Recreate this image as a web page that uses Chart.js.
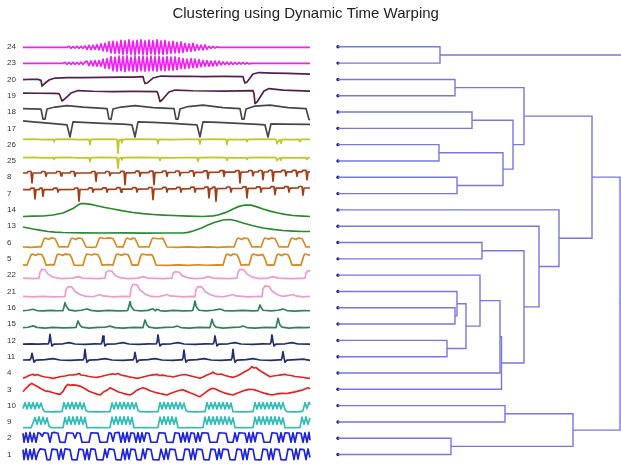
<!DOCTYPE html>
<html lang="en">
<head>
<meta charset="UTF-8">
<title>Clustering using Dynamic Time Warping</title>
<script src="https://cdn.jsdelivr.net/npm/chart.js"></script>
<style>
  html, body { margin: 0; padding: 0; background: #fff; }
  #wrap { width: 621px; height: 464px; }
</style>
</head>
<body>
<div id="wrap"><canvas id="dtwChart" width="621" height="464"></canvas></div>
<script>
// row order, top to bottom (leaf order of the dendrogram)
const rowLabels = ['24','23','20','19','18','17','26','25','8','7','14','13','6','5','22','21','16','15','12','11','4','3','10','9','2','1'];
const rowColors = ['#f020f0','#f020f0','#52204f','#52204f','#474747','#474747','#c2c82a','#c2c82a','#a33e1b','#a33e1b',
                   '#278a2e','#278a2e','#d98a20','#d98a20','#f09ad0','#f09ad0','#2f8260','#2f8260','#1f2f6e','#1f2f6e',
                   '#e52222','#e52222','#30bdb8','#30bdb8','#1f24d8','#1f24d8'];

// time series: flat lists of (time, amplitude) pairs
const s24 = [0,-0.5, 44,-0.5,
  46,0.5, 48,-1.5, 50,0.3, 52,-1.3, 54,0.6, 56,-1.6, 58,0.5, 60,-1.5, 62,0.8,
  64,-2.5, 66,1.5, 68,-2.8, 70,1.6, 72,-2.5, 74,2, 76,-3,
  78,3, 80,-4, 82,3.5, 84,-4.5,
  86,5, 88,-6, 90,5.5, 92,-6.5, 94,5, 96,-6.5,
  98,6.5, 100,-7.5, 102,6, 104,-7, 106,7, 108,-7.5, 110,6, 112,-8, 114,6.5, 116,-7, 118,7, 120,-7.5,
  122,6, 124,-8, 126,6.8, 128,-7, 130,6.2, 132,-7.8, 134,7, 136,-7.2, 138,6, 140,-7.5, 142,6.5, 144,-7,
  146,5, 148,-6.5, 150,5.5, 152,-6, 154,4.5, 156,-6, 158,5, 160,-5.5,
  162,3.5, 164,-4.5, 166,3, 168,-4.5, 170,3.5, 172,-4,
  174,2, 176,-3, 178,1.8, 180,-3, 182,2, 184,-2.5,
  186,0.5, 188,-1.5, 190,0.5, 192,-1.3, 194,0, 196,-0.5, 287,-0.5];
const s23 = [0,-0.2, 40,-0.2,
  42,0.8, 44,-1.2, 46,0.8, 48,-1.2, 50,0.9, 52,-1.3, 54,0.8, 56,-1.3, 58,1, 60,-1.4, 62,1,
  64,2, 66,-2.5, 68,2.2, 70,-2.8, 72,2.5, 74,-3, 76,2.5, 78,-3.2,
  80,4, 82,-5, 84,4.5, 86,-5.5,
  88,6.5, 90,-7.5, 92,6, 94,-8, 96,7, 98,-7.5, 100,6.5, 102,-8.5, 104,7.2, 106,-7.5, 108,6, 110,-8,
  112,7, 114,-8.2, 116,6.5, 118,-7.5, 120,7, 122,-8, 124,6.2, 126,-7.8, 128,7, 130,-7.5, 132,6.5, 134,-8,
  136,6.8, 138,-7.2, 140,6, 142,-7.5, 144,6.5, 146,-7, 148,6, 150,-7, 152,6.2, 154,-6.5, 156,5.5,
  158,-5.5, 160,4.5, 162,-5.5, 164,4, 166,-5, 168,4.5, 170,-4.5, 172,4, 174,-4.5, 176,3.5,
  178,-3.5, 180,2.5, 182,-3, 184,2.5, 186,-3, 188,2, 190,-2.8, 192,2.2, 194,-2.5, 196,2,
  198,-1.8, 200,1.2, 202,-1.5, 204,1, 206,-1.5, 208,1, 210,-1.4, 212,0.8, 214,-1.2, 216,0.8,
  218,-1, 220,0.6, 222,-1, 224,0.4, 226,-0.8, 228,-0.2, 287,-0.2];
const s20 = [0,-0.1, 8,0.2, 15,0, 18,-1, 19,-6.6, 21,-4.6, 26,-0.6, 32,1.4, 45,1.8, 60,1.9, 80,2.1, 100,2.4, 110,2.3,
  120,2.9, 121,-1, 122,-4.1, 124,-3.6, 130,1.4, 138,3.4, 150,3, 165,3.2, 180,2.9, 200,3.1,
  220,2.9, 221,-1, 222,-3.6, 224,-2.6, 230,5.4, 236,6.9, 250,6.4, 265,6, 287,5.4];
const s19 = [0,2.7, 15,2.5, 30,2.4, 36,2.2, 37,0, 39,-5.3, 41,-3.8, 48,2.7, 55,5.2, 70,4.5, 90,4.2, 110,4.4,
  134,4.2, 135,2, 137,-5.8, 139,-4.3, 146,3.7, 152,5.7, 170,5, 200,4.7,
  230,5.2, 231,2, 232,-7.8, 234,-6.3, 241,4.7, 246,7.2, 260,5.7, 287,4.7];
const s18 = [0,3.5, 18,3, 20,-7, 22,-7, 24,3, 32,5, 44,6.5, 60,5, 84,3.5, 86,-7, 88,-7.5, 90,3, 98,5, 112,6.5, 130,4.5,
  151,3.5, 153,-7, 155,-7, 157,3, 165,5.5, 180,7, 200,4.5, 217,3.5, 219,-7, 221,-7, 223,3, 232,6, 247,7, 265,4.5,
  283,3.5, 286,-7.5, 287,-8];
const s17 = [0,7.4, 10,6.5, 25,5.2, 44,3.4, 47,-8.6, 50,6.5, 60,6, 80,5, 100,4.2, 109,3.4, 112,-8.6, 115,6.5, 130,6,
  150,5, 165,4, 174,3.4, 177,-8.6, 180,6.5, 195,6, 215,5, 235,4, 242,3.4, 245,-8.6, 248,4.5, 260,4.2, 287,3.9];
const s26 = [0,5.2, 10,5.5, 20,5, 30,5.3, 31,3, 32,5.2, 45,5.5, 55,5, 66,5.2, 67,0, 68,5.2, 80,5.5, 94,5.2, 95,-8.6,
  96,4.5, 98,5.2, 99,2, 100,5.2, 115,5.5, 134,5.2, 135,1, 136,5.2, 150,5, 162,5.4, 176,5.2, 177,0.5, 178,5.2,
  190,5.5, 203,5.2, 204,0, 205,5.2, 215,5, 223,5.2, 224,3, 225,5.2, 240,5.5, 253,5.2, 254,1, 255,3, 257,5.2,
  258,1.5, 259,5.2, 270,5, 276,5.2, 277,3, 278,5.2, 287,5.3];
const s25 = [0,3.3, 10,3.6, 20,3.1, 30,3.4, 31,1.5, 32,3.3, 45,3.6, 55,3.1, 66,3.3, 67,-0.7, 68,3.3, 80,3.6, 94,3.3,
  95,-7.3, 96,2.5, 98,3.3, 99,1, 100,3.3, 115,3.6, 136,3.3, 137,0.5, 138,3.3, 150,3.1, 162,3.5, 174,3.3, 175,-0.3,
  176,3.3, 190,3.6, 203,3.3, 204,0.5, 205,3.3, 215,3.1, 223,3.3, 224,1.5, 225,3.3, 240,3.6, 253,3.3, 254,0.3,
  255,2, 257,3.3, 258,0.8, 259,3.3, 270,3.1, 283,3.3, 284,1.5, 285,3.3, 287,3.4];
const s8 = [0,4.3,
  4,4.3, 5,5.8, 8,5.8, 9,-5.7, 10,4.3,  18,4.3, 19,5.8, 22,5.8, 23,1, 24,4.3,
  33,4.3, 34,5.8, 37,5.8, 38,1.5, 39,4.3,  47,4.3, 48,5.8, 51,5.8, 52,1, 53,4.3,
  68,4.3, 69,5.8, 72,5.8, 73,-4, 74,4.3,  82,4.3, 83,5.8, 86,5.8, 87,1.5, 88,4.3,
  97,4.5, 98,6, 101,6, 102,-7.4, 103,4.5,  112,4.6, 113,6.1, 116,6.1, 117,1, 118,4.6,
  126,4.7, 127,6.2, 130,6.2, 131,-7.4, 132,4.7,  139,4.8, 140,6.3, 143,6.3, 144,1, 145,4.8,
  152,4.8, 153,6.3, 156,6.3, 157,1.5, 158,4.8,  166,4.9, 167,6.4, 170,6.4, 171,1, 172,4.9,
  180,5, 181,6.5, 184,6.5, 185,-1.4, 186,5,  196,5.1, 197,6.6, 200,6.6, 201,1, 202,5.1,
  212,5.2, 213,6.7, 216,6.7, 217,-5.7, 218,5.2,  225,5.3, 226,6.8, 229,6.8, 230,1.5, 231,5.3,
  235,5.3, 236,6.8, 239,6.8, 240,-2.4, 241,5.3,  245,5.4, 246,6.9, 249,6.9, 250,-4, 251,5.4,
  258,5.5, 259,7, 262,7, 263,1.5, 264,5.5,  269,5.5, 270,7, 273,7, 274,1, 275,5.5,
  279,5.5, 280,7, 283,7, 284,-2.5, 285,5.5, 287,5.5];
const s7 = [0,3.9,
  7,3.9, 8,5.4, 11,5.4, 12,-5.4, 13,3.9,  16,3.9, 17,5.4, 19,5.4, 20,-2.7, 21,3.9,
  30,4, 31,5.5, 34,5.5, 35,1.5, 36,4,  51,4.1, 52,5.6, 55,5.6, 56,-7.7, 57,4.1,
  65,4.2, 66,5.7, 69,5.7, 70,1.5, 71,4.2,  79,4.3, 80,5.8, 83,5.8, 84,1.5, 85,4.3,
  93,4.4, 94,5.9, 97,5.9, 98,1.5, 99,4.4,  109,4.5, 110,6, 113,6, 114,1.5, 115,4.5,
  125,4.6, 126,6.1, 129,6.1, 130,-6.1, 131,4.6,  139,4.7, 140,6.2, 143,6.2, 144,1.5, 145,4.7,
  153,4.8, 154,6.3, 157,6.3, 158,1.5, 159,4.8,  167,4.9, 168,6.4, 171,6.4, 172,1.5, 173,4.9,
  181,5, 182,6.5, 185,6.5, 186,-4.4, 187,5,  189,5, 190,6.5, 192,6.5, 193,-7.7, 194,5,
  203,5.1, 204,6.6, 207,6.6, 208,1.5, 209,5.1,  219,5.2, 220,6.7, 223,6.7, 224,-4.4, 225,5.2,
  233,5.3, 234,6.8, 237,6.8, 238,1.5, 239,5.3,  247,5.4, 248,6.9, 251,6.9, 252,-1, 253,5.4,
  261,5.5, 262,7, 265,7, 266,1.5, 267,5.5,  275,5.6, 276,7.1, 279,7.1, 280,-1.5, 281,5.6, 287,5.6];
const s14 = [0,-6.6, 10,-6.3, 20,-6.1, 30,-5.1, 40,-3.1, 50,1.4, 55,4.8, 58,6.4, 62,6.2, 68,5.5, 75,3.9, 82,2.4,
  90,0.9, 100,-1, 110,-2.6, 120,-3.8, 130,-4.6, 140,-5.2, 150,-5.6, 165,-6.2, 180,-6.6, 190,-6, 195,-5.1,
  203,-2.5, 210,0.9, 216,3.5, 222,4.9, 228,4.8, 234,3, 240,0.9, 248,-1.5, 255,-3.1, 262,-4.5, 270,-5.6,
  280,-6.2, 287,-6.6];
const s13 = [0,-0.8, 5,-1.8, 10,-2.8, 18,-4.2, 25,-5.3, 32,-6, 40,-6.3, 60,-6.6, 80,-6.8, 100,-6.7, 120,-6.9,
  140,-6.8, 160,-6.8, 165,-6.2, 170,-4.8, 178,-2, 185,1.2, 192,4, 200,6.2, 207,6.7, 213,5.5, 220,3.2, 230,0.5,
  240,-1.8, 250,-3.2, 260,-4.3, 270,-4.9, 280,-5.3, 287,-5.3];
const s6 = [0,-4.3, 8,-4.8, 15,-4.4,
  18,-4.5, 21,3.5, 22,4.5, 26,3.2, 28,4.6, 32,4, 34,0, 36,-4.5, 42,-4.2,
  45,-4.5, 48,3.5, 49,4.5, 53,3, 55,4.5, 59,4, 61,0, 63,-4.5, 69,-4.8,
  73,-4.5, 76,3.5, 77,4.8, 82,4, 86,4.6, 90,4, 92,0, 94,-4.5, 99,-4.2,
  100,-4.5, 103,3.5, 104,4.5, 108,3, 110,4.5, 112,4, 114,0, 116,-4.5, 122,-4.3,
  126,-4.5, 129,3.5, 130,4.5, 135,3.8, 140,4.2, 142,0, 144,-4.5,
  155,-4.9, 165,-4.3, 175,-4.8, 185,-4.4, 195,-4.9, 205,-4.4,
  211,-4.5, 214,3.5, 215,4.5, 219,3, 221,4.5, 225,4, 227,0, 229,-4.5, 235,-4.2,
  238,-4.5, 241,3.5, 242,4.5, 246,3.3, 248,4.5, 252,4, 254,0, 256,-4.5, 262,-4.3,
  265,-4.5, 268,3.5, 269,4.5, 273,3, 275,4.5, 279,4, 281,0, 283,-4.5, 287,-4.3];
const s5 = [0,-6, 4,-6.2, 8,3.8, 9,4.8, 13,3.5, 15,4.8, 19,4.2, 21,0, 23,-6.2, 28,-5.8,
  31,-6.2, 34,3.8, 35,4.8, 40,3.5, 42,4.8, 47,4.2, 49,0, 51,-6.2, 57,-6.5,
  60,-6.2, 63,3.8, 64,4.8, 69,3.8, 71,4.8, 75,4.2, 77,0, 79,-6.2, 86,-5.8,
  90,-6.2, 93,3.8, 94,4.8, 99,3.5, 101,4.8, 105,4.2, 107,0, 109,-6.2, 112,-6,
  115,-6.2, 118,3.8, 119,4.8, 124,4, 129,4.2, 131,0, 133,-6.2,
  145,-6.6, 155,-6, 165,-6.5, 175,-5.9, 185,-6.4, 195,-6,
  200,-6.2, 203,3.8, 204,4.8, 208,3.2, 210,4.8, 214,4.2, 216,0, 218,-6.2, 223,-5.8,
  226,-6.2, 229,3.8, 230,4.8, 235,3.5, 240,4.2, 242,0, 244,-6.2, 248,-6,
  251,-6.2, 254,3.8, 255,4.8, 259,3.2, 261,4.8, 265,4.2, 267,0, 269,-6.2, 275,-6,
  278,-6.2, 281,3.8, 282,4.8, 286,3.8, 287,4.5];
const s22 = [0,-3, 10,-3.5, 16,-3, 17,3, 19,5.8, 22,5.5, 25,1, 30,-2, 38,-3.5, 50,-3, 55,-1.5, 60,-3, 75,-3.5,
  82,-3, 83,2.5, 85,4.4, 89,4, 92,0, 97,-2.5, 105,-3.5, 115,-3, 120,-1.5, 125,-3, 140,-3.5,
  149,-3, 150,2, 152,3.4, 156,3, 159,-0.5, 164,-2.5, 172,-3.5, 180,-3, 186,-1.5, 190,-3, 205,-3.5,
  214,-3, 215,3, 217,5.8, 221,5.2, 224,1, 229,-2, 237,-3.5, 245,-3, 250,-1.5, 255,-3, 270,-3.5,
  282,-3, 283,2, 285,4.5, 287,4];
const s21 = [0,-5, 10,-5.5, 20,-5, 30,-5.4, 40,-5.2, 42,-5, 43,2, 45,4.8, 49,4.3, 52,0, 57,-3, 63,-5, 70,-5.3,
  74,-4, 77,-3, 80,-4.5, 90,-5.4, 100,-5, 107,-5.2, 108,3, 110,7.2, 114,6.5, 117,1.5, 122,-2.5, 128,-5,
  135,-5.3, 141,-4, 144,-3, 147,-4.5, 160,-5.4, 170,-5, 172,-5.2, 173,2, 175,4.8, 179,4.3, 182,0, 187,-3,
  193,-5, 200,-5.3, 207,-4, 210,-3, 213,-4.5, 225,-5.4, 237,-5, 239,-5.2, 240,2.5, 242,5.5, 246,5, 249,0.5,
  254,-3, 260,-5, 266,-4, 270,-3, 273,-4.5, 280,-5.4, 287,-5];
const s16 = [0,-3, 5,-2.5, 10,-1.5, 14,-2.8, 20,-3.2, 28,-2.6, 35,-3, 40,-2.8, 41,1, 42,5.1, 43,2, 44,0.5, 46,-2.2,
  52,-3.2, 58,-2.5, 64,-1.2, 68,-2.6, 75,-3.3, 85,-2.7, 95,-3.1, 104,-2.8, 105,-2, 106,2, 107,6.1, 108,2, 109,0,
  111,-2.5, 118,-3.2, 125,-2.6, 130,-1, 132,-3, 134,-1.5, 137,-2.8, 142,-3.3, 150,-2.6, 160,-3.1, 169,-2.8,
  170,-2, 171,2, 172,6.8, 173,2, 174,0, 176,-2.5, 183,-3.2, 190,-2.5, 197,-1.3, 201,-2.8, 210,-3.2, 220,-2.7,
  230,-3.1, 235,-2.8, 236,0, 237,2.8, 238,0.5, 240,-2.5, 248,-3.2, 255,-2.5, 260,-1.3, 264,-2.8, 272,-3.3,
  280,-2.8, 287,-3];
const s15 = [0,-3.5, 5,-3.2, 10,-1.8, 14,-3.3, 22,-4, 30,-3.4, 40,-3.8, 50,-3.5, 53,-3.4, 54,0, 55,3.1, 56,1, 57,-1,
  59,-3, 66,-4, 75,-3.4, 82,-3.2, 87,-2, 92,-3.5, 100,-4, 110,-3.4, 120,-3.5, 121,0.5, 122,4.1, 123,1.5,
  124,-1, 126,-3, 133,-4, 142,-3.4, 150,-3.2, 154,-2, 158,-3.5, 166,-4, 176,-3.4, 187,-3.5, 188,0.5, 189,4.8,
  190,1.5, 191,-1, 193,-3, 200,-4, 210,-3.4, 216,-3.2, 220,-2, 224,-3.5, 232,-4, 242,-3.4, 253,-3.5, 254,1,
  255,5.8, 256,2, 257,-1, 259,-3, 266,-4, 275,-3.4, 282,-3.6, 287,-3.3];
const s12 = [0,-3.8, 8,-3.4, 15,-3.8, 22,-3.5, 25,-3.6, 26,-2, 27,6.1, 28,-1, 29,-5.6, 31,-3.8, 40,-3.4, 46,-2.3,
  52,-3.6, 62,-3.9, 72,-3.5, 78,-3.6, 79,-2, 80,4.4, 81,-1, 82,-5.6, 84,-3.8, 93,-3.4, 100,-2.3, 106,-3.6,
  116,-3.9, 126,-3.5, 133,-3.6, 134,-2, 135,5.4, 136,-1, 137,-5.6, 139,-3.8, 148,-3.4, 155,-2.3, 161,-3.6,
  172,-3.9, 183,-3.5, 190,-3.6, 191,-2, 192,4.4, 193,-1, 194,-5.6, 196,-3.8, 205,-3.4, 212,-2.3, 218,-3.6,
  230,-3.9, 240,-3.5, 247,-3.6, 248,-2, 249,5.4, 250,-1, 251,-5.6, 253,-3.8, 262,-3.4, 269,-2.3, 275,-3.6,
  287,-3.8];
const s11 = [0,-3.3, 6,-3.1, 7,-3.3, 8,-1.5, 9,3.4, 10,-1, 11,-5.5, 13,-3.5, 22,-3, 30,-2, 37,-3.3, 47,-3.6,
  57,-3.2, 60,-3.3, 61,-1.5, 62,7.4, 63,-1, 64,-5.6, 66,-3.5, 75,-3, 82,-2, 89,-3.3, 100,-3.6, 108,-3.2,
  110,-3.3, 111,-1.5, 112,4.4, 113,-1, 114,-5.6, 116,-3.5, 125,-3, 132,-2, 139,-3.3, 150,-3.6, 157,-3.2,
  159,-3.3, 160,-1.5, 161,6.7, 162,-1, 163,-5.6, 165,-3.5, 174,-3, 181,-2, 188,-3.3, 198,-3.6, 206,-3.2,
  208,-3.3, 209,-1.5, 210,7.4, 211,-1, 212,-5.6, 214,-3.5, 223,-3, 230,-2, 237,-3.3, 248,-3.6, 256,-3.2,
  258,-3.3, 259,-1.5, 260,5, 261,-1, 262,-5.6, 264,-3.5, 273,-3, 280,-2.5, 287,-3.6];
const s4 = [0,-5.3, 3,-4, 6,-2.5, 10,-1.3, 12,-2.5, 14,-1.5, 18,-3, 22,-4, 26,-4.5, 30,-5.3, 34,-4.5, 38,-3.5,
  42,-3, 46,-2, 50,-1.8, 54,-1.3, 56,-0.5, 58,-2, 62,-2.5, 66,-3.5, 70,-4, 74,-4.3, 78,-3.5, 82,-2.5, 86,-1.5,
  90,-0.8, 92,-1.5, 95,-0.5, 98,-2, 102,-2.8, 106,-3.8, 110,-4.5, 114,-5.3, 118,-4.5, 122,-3.5, 126,-2.5,
  130,-1.8, 134,-1.3, 136,-2.5, 140,-2.2, 144,-3, 148,-3.5, 150,-4, 154,-3, 158,-2, 162,-1.5, 166,-2.5,
  170,-3.5, 174,-4.5, 177,-5.3, 180,-4, 184,-2, 188,-0.5, 190,0.7, 192,-0.5, 195,-1.5, 198,-1, 202,-2.5,
  206,-3.5, 210,-4.3, 214,-3, 218,-1, 222,1.5, 226,3.5, 229,6.3, 231,5, 233,5.5, 236,3, 240,0.5, 244,-2,
  247,-3.8, 250,-3, 254,-2.5, 258,-1.8, 262,-1.3, 264,-2, 268,-2.5, 272,-3.5, 277,-4, 281,-4.5, 285,-5.3, 287,-5];
const s3 = [0,-2.4, 3,1, 6,4, 9,6, 11,4.5, 14,3, 18,0.5, 22,-1.5, 27,-2.4, 32,-4, 37,-5, 40,-2, 43,3, 45,5, 47,4,
  50,4.5, 54,4, 57,3.2, 62,0.5, 66,-2, 70,-3.5, 74,-4.8, 77,-5.7, 80,-3, 84,-1, 87,1.5, 90,0, 95,-2.5, 100,-4,
  104,-5, 107,-5.7, 110,-4, 113,-1.5, 117,0.5, 120,1.6, 123,0.5, 127,-1.5, 132,-3, 137,-4.2, 141,-5, 144,-5.7,
  148,-4, 152,-2.5, 156,-1.2, 160,-0.5, 163,-1.8, 167,-3.5, 171,-5, 174,-6.5, 177,-7.4, 180,-5, 184,-2,
  188,0.5, 190,1, 193,0, 197,-2, 201,-3.5, 206,-4.8, 210,-5.7, 214,-4, 218,-2.5, 222,-1, 226,0, 230,-0.2,
  233,-1, 237,-2.5, 241,-3.8, 246,-5, 250,-5.7, 254,-4.5, 259,-4, 264,-4.2, 267,-3.5, 272,-2.5, 276,-1.5,
  280,-0.5, 283,0.8, 285,1.6, 287,0.5];
const s10 = [0,-3, 2,3, 4,-3.5, 6,3.2, 8,-3, 10,3, 12,-3.5, 14,3, 16,-2.5, 18,2.5, 20,-4, 22,-6.1, 30,-6.3, 37,-6.1,
  39,-6, 41,3, 43,-3.5, 45,3, 47,-3, 49,3.3, 51,-3.5, 53,3, 55,-3, 57,3.2, 59,-3.5, 61,2.5, 63,-5, 65,-6.1,
  75,-6.3, 85,-6.1,
  87,-6, 89,2.8, 91,-3.5, 93,3.2, 95,-3, 97,3, 99,-3.5, 101,3.3, 103,-3, 105,3, 107,-3.5, 109,3, 111,-3,
  113,2.8, 115,-5, 117,-6.1, 125,-6.3, 133,-6.1,
  135,-6, 137,3, 139,-3.5, 141,3.2, 143,-3, 145,3, 147,-3.5, 149,3, 151,-3, 153,3.3, 155,-3.5, 157,3, 159,-3,
  161,2.5, 163,-5, 165,-6.1, 172,-6.3, 180,-6.1,
  182,-6, 184,3, 186,-3.5, 188,3, 190,-3, 192,3.2, 194,-3.5, 196,3, 198,-3, 200,3, 202,-3.5, 204,3, 206,-3,
  208,2.5, 210,-6.1, 220,-6.3, 228,-6.1,
  230,-6, 232,3, 234,-3.5, 236,3.2, 238,-3, 240,3, 242,-3.5, 244,3, 246,-3, 248,3.3, 250,-3.5, 252,3, 254,-3,
  256,3, 258,-3.5, 260,3, 262,-4, 264,-6.1, 272,-6.3, 278,-6.1,
  280,-5, 282,3, 284,-3, 286,3.3, 287,1];
const s9 = [0,-5.8, 4,-5.6, 8,-5.8, 10,-1, 12,4.5, 14,-2.4, 16,5, 18,-2.4, 20,4.8, 22,-2, 24,4, 26,-4, 28,-5.8,
  34,-5.6, 40,-5.8, 42,4.5, 44,-2.4, 46,5.2, 48,-2.4, 50,5, 52,-2.4, 54,5.2, 56,-2.4, 58,5, 60,-2.4, 62,4.5,
  64,-5.8, 75,-5.6, 85,-5.8,
  87,-5.5, 89,4.8, 91,-2.4, 93,5.2, 95,-2.4, 97,5, 99,-2.4, 101,5.2, 103,-2.4, 105,5, 107,-2.4, 109,4.5,
  111,-5.8, 122,-5.6, 133,-5.8,
  135,-5.5, 137,4.8, 139,-2.4, 141,5.2, 143,-2.4, 145,5, 147,-2.4, 149,5.2, 151,-2.4, 153,4.5, 155,-5.8,
  168,-5.6, 178,-5.8,
  180,-5.5, 182,4.8, 184,-2.4, 186,5.2, 188,-2.4, 190,5, 192,-2.4, 194,5.2, 196,-2.4, 198,5, 200,-2.4,
  202,5.2, 204,-2.4, 206,4.8, 208,-2.4, 210,4, 212,-5.8, 220,-5.6, 228,-5.8,
  230,-5.5, 232,4.8, 234,-2.4, 236,5.2, 238,-2.4, 240,5, 242,-2.4, 244,5.2, 246,-2.4, 248,5, 250,-2.4,
  252,5.2, 254,-2.4, 256,4.8, 258,-2.4, 260,4, 262,-5.8, 270,-5.6, 275,-5.8,
  277,-5.5, 279,4.8, 281,-2.4, 283,5, 285,-2.4, 287,4];
const s2 = [0,5, 1,-4, 3,5.5, 5,-4, 7,5.9, 9,-3.5, 11,5, 13,-4, 15,5.5, 17,5, 19,2, 21,5.5, 25,5, 27,-4, 29,5.5,
  31,5.9, 35,5, 37,-4, 42,-4.1, 44,5.5, 50,5, 52,0, 54,5.5, 57,5, 59,-4, 66,-4, 68,5.5, 75,5.2, 77,-4, 84,-4,
  86,5.5, 88,5, 90,-3, 92,5.5, 96,5.8, 98,-4, 100,5.5, 102,-4, 104,5.9, 106,-3.5, 108,5.5, 111,5, 113,-4,
  115,5.5, 117,-4, 119,5.5, 121,-3, 123,5.5, 126,5, 128,-4, 134,-4, 136,5.5, 142,5.2, 144,-4, 150,-4.1,
  152,5.5, 156,5, 158,-4, 160,5.5, 162,-3.5, 164,5.9, 166,-4, 168,5.5, 171,5, 173,-4, 175,5.5, 177,-3,
  179,5.5, 185,5.2, 187,-4, 194,-4, 196,5.5, 203,5, 205,-4, 210,-4, 212,5.5, 214,-3, 216,5.5, 222,5, 224,-4,
  226,5.5, 228,-4, 230,5.9, 232,-3.5, 234,5.5, 239,5, 241,-4, 247,-4, 249,5.5, 254,5, 256,-4, 258,5.5,
  260,-3.5, 262,5.5, 266,5.2, 268,-4, 270,5.5, 272,-4, 274,5.5, 278,5, 280,-4, 282,5.5, 284,-4, 286,5.9, 287,-2];
const s1 = [0,5, 1,-5, 3,5.6, 5,-5, 7,5, 9,-4.5, 11,5.6, 13,-5, 15,2, 17,5.6, 22,5, 24,-5, 27,-5.4, 29,5.5, 34,5,
  36,-5, 38,5.5, 40,-4.5, 42,5.6, 47,5, 49,-5, 54,-5.4, 56,5.5, 60,5, 62,-5, 64,5.5, 66,-5, 68,5.6, 72,5.2,
  74,-5, 80,-5.4, 82,5.5, 84,-3, 86,5.6, 91,5, 93,-5, 98,-5.4, 100,5.5, 102,-5, 104,5.6, 106,-4.5, 108,5.5,
  112,5, 114,-5, 118,-5.4, 120,5.5, 122,-4, 124,5.6, 128,5, 130,-5, 136,-5.4, 138,5.5, 141,-5, 143,5.6,
  145,-4.5, 147,5.5, 152,5, 154,-5, 160,-5.4, 162,5.5, 166,5.2, 168,-5, 170,5.6, 172,-5, 174,5.5, 179,5,
  181,-5, 186,-5.4, 188,5.5, 192,5, 194,-5, 196,5.6, 198,-4, 200,5.5, 205,5, 207,-5, 212,-5.4, 214,5.5,
  218,5, 220,-5, 222,5.5, 224,-5, 226,5.6, 230,5.2, 232,-5, 238,-5.4, 240,5.5, 244,5, 246,-5, 248,5.6,
  250,-5, 252,5.5, 256,5, 258,-5, 263,-5.4, 265,5.5, 269,5, 271,-5, 273,5.6, 275,-4.5, 277,5.5, 281,5,
  283,-5, 285,5.6, 287,-3];

const seriesData = [s24, s23, s20, s19, s18, s17, s26, s25, s8, s7, s14, s13, s6, s5, s22, s21, s16, s15, s12, s11,
                    s4, s3, s10, s9, s2, s1];

// dendrogram: [childA, childB, merge distance]; '#k' = k-th merge
const linkage = [
  ['24','23',102], ['20','19',117], ['18','17',134], ['26','25',101], ['8','7',119],
  ['#3','#4',165], ['#2','#5',175], ['#1','#6',186], ['6','5',144], ['16','15',117],
  ['21','#9',119], ['12','11',109], ['#10','#11',128], ['22','#12',142], ['#13','4',162],
  ['#14','3',163.5], ['#8','#15',186], ['13','#16',201], ['14','#17',221], ['#7','#18',254],
  ['10','9',167], ['2','1',113], ['#20','#21',235], ['#19','#22',282], ['#0','#23',305]
];

const ampScale = 1 / 16.31; // amplitude units per row spacing

const datasets = [];

seriesData.forEach((flat, row) => {
  const pts = [];
  for (let k = 0; k < flat.length; k += 2) {
    pts.push({ x: flat[k], y: row - flat[k + 1] * ampScale });
  }
  datasets.push({
    data: pts, xAxisID: 'xs', yAxisID: 'y', showLine: true,
    borderColor: rowColors[row], borderWidth: 1.7, borderJoinStyle: 'round',
    pointRadius: 0, tension: 0, fill: false
  });
});

const nodeY = {}, nodeH = {};
rowLabels.forEach((lab, i) => { nodeY[lab] = i; nodeH[lab] = 0; });
linkage.forEach(([a, b, h], k) => {
  const id = '#' + k;
  nodeY[id] = (nodeY[a] + nodeY[b]) / 2;
  nodeH[id] = h;
  datasets.push({
    data: [{ x: nodeH[a], y: nodeY[a] }, { x: h, y: nodeY[a] }, { x: h, y: nodeY[b] }, { x: nodeH[b], y: nodeY[b] }],
    xAxisID: 'xd', yAxisID: 'y', showLine: true,
    borderColor: '#7676e4', borderWidth: 1.4, pointRadius: 0, tension: 0, fill: false
  });
});

// leaf dots
datasets.push({
  data: rowLabels.map((_, i) => ({ x: 0, y: i })),
  xAxisID: 'xd', yAxisID: 'y', showLine: false, borderWidth: 0,
  pointRadius: 1.7, pointBackgroundColor: '#23237a', pointBorderWidth: 0
});

Chart.defaults.font.family = '"Liberation Sans", Arial, sans-serif';

new Chart(document.getElementById('dtwChart'), {
  type: 'scatter',
  data: { datasets },
  options: {
    responsive: false,
    animation: false,
    events: [],
    layout: { autoPadding: false, padding: { left: 7, right: 0, top: 0, bottom: 1.3 } },
    plugins: {
      legend: { display: false },
      tooltip: { enabled: false },
      title: {
        display: true,
        text: 'Clustering using Dynamic Time Warping    ',
        color: '#222',
        font: { size: 15, weight: 'normal' },
        padding: { top: 5, bottom: 7.5 }
      }
    },
    scales: {
      // series time axis: t=0..287
      xs: { type: 'linear', position: 'bottom', display: false, min: -3, max: 598 },
      // dendrogram distance axis
      xd: { type: 'linear', position: 'bottom', display: false, min: -318, max: 283 },
      y: {
        type: 'linear', position: 'left', reverse: true, min: -1, max: 25.5,
        grid: { display: false }, border: { display: false },
        afterBuildTicks: s => { s.ticks = rowLabels.map((_, i) => ({ value: i })); },
        afterFit: s => { s.width = 13; s.paddingTop = 0; s.paddingBottom = 0; },
        ticks: {
          autoSkip: false, padding: 0, crossAlign: 'far', color: '#333',
          font: { size: 8 },
          callback: v => rowLabels[v]
        }
      }
    }
  }
});
</script>
</body>
</html>
